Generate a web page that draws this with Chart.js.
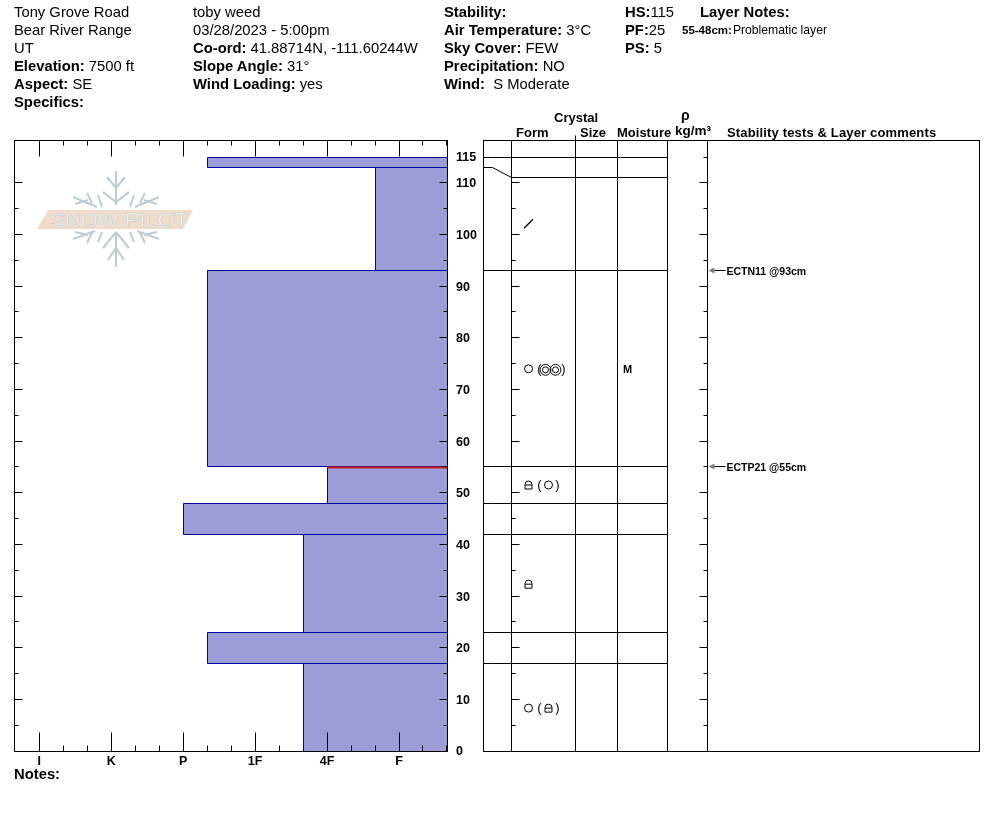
<!DOCTYPE html>
<html>
<head>
<meta charset="utf-8">
<title>Snow profile</title>
<script src="https://cdn.jsdelivr.net/npm/chart.js@4"></script>
<style>
  html, body { margin: 0; padding: 0; background: #fff; }
  #page { position: relative; width: 994px; height: 840px; overflow: hidden; font-family: "Liberation Sans", Arial, sans-serif; color: #000; }
  canvas { position: absolute; top: 0; z-index: 2; }
  #profile { left: 0; }
  #table { left: 475px; }
  .t { position: absolute; white-space: nowrap; font-size: 14.8px; line-height: 18px; z-index: 3; }
  .h { position: absolute; white-space: nowrap; font-size: 13px; line-height: 14px; font-weight: bold; z-index: 3; }
  b { font-weight: bold; }
  #logo { position: absolute; left: 0; top: 0; z-index: 1; }
</style>
</head>
<body>
<div id="page">
  <svg id="logo" width="240" height="290" fill="none" stroke="#bccbd4" stroke-width="2">
    <path d="M116 171V205M116 188L107 177M116 188L125 177M116 202L103 192M116 202L129 192"/>
    <path d="M116 267V234M116 232L103 248M116 232L129 248M116 248L108 260M116 248L124 260"/>
    <path d="M73 197L97 207M92 203L87 193M88 200L75 204M98 195L102 207"/>
    <path d="M159 197L135 207M140 203L145 193M144 200L157 204M134 195L130 207"/>
    <path d="M73 239L95 231M92 233L87 243M88 235L75 232M98 242L102 232"/>
    <path d="M159 239L137 231M140 233L145 243M144 235L157 232M134 242L130 232"/>
    <polygon points="37,229 48,210 193,210 183,229" fill="#f0dcc9" stroke="none"/>
    <text x="50" y="227" textLength="138" lengthAdjust="spacingAndGlyphs" font-family="Liberation Sans" font-size="21" fill="#f8f4ef" stroke="#c2ced6" stroke-width="0.6">SNOW PILOT</text>
  </svg>

  <div class="t" style="left:14px;top:3px">Tony Grove Road</div>
  <div class="t" style="left:14px;top:21px">Bear River Range</div>
  <div class="t" style="left:14px;top:39px">UT</div>
  <div class="t" style="left:14px;top:57px"><b>Elevation:</b> 7500 ft</div>
  <div class="t" style="left:14px;top:75px"><b>Aspect:</b> SE</div>
  <div class="t" style="left:14px;top:93px"><b>Specifics:</b></div>

  <div class="t" style="left:193px;top:3px">toby weed</div>
  <div class="t" style="left:193px;top:21px">03/28/2023 - 5:00pm</div>
  <div class="t" style="left:193px;top:39px"><b>Co-ord:</b> 41.88714N, -111.60244W</div>
  <div class="t" style="left:193px;top:57px"><b>Slope Angle:</b> 31°</div>
  <div class="t" style="left:193px;top:75px"><b>Wind Loading:</b> yes</div>

  <div class="t" style="left:444px;top:3px"><b>Stability:</b></div>
  <div class="t" style="left:444px;top:21px"><b>Air Temperature:</b> 3°C</div>
  <div class="t" style="left:444px;top:39px"><b>Sky Cover:</b> FEW</div>
  <div class="t" style="left:444px;top:57px"><b>Precipitation:</b> NO</div>
  <div class="t" style="left:444px;top:75px"><b>Wind:</b>&nbsp; S Moderate</div>

  <div class="t" style="left:625px;top:3px"><b>HS:</b>115</div>
  <div class="t" style="left:625px;top:21px"><b>PF:</b>25</div>
  <div class="t" style="left:625px;top:39px"><b>PS:</b> 5</div>
  <div class="t" style="left:700px;top:3px"><b>Layer Notes:</b></div>
  <div class="t" style="left:682px;top:21px;font-size:12.2px"><b style="font-size:11.5px;margin-right:1px">55-48cm:</b>Problematic layer</div>

  <div class="h" style="left:554px;top:111px">Crystal</div>
  <div class="h" style="left:516px;top:126px">Form</div>
  <div class="h" style="left:580px;top:126px">Size</div>
  <div class="h" style="left:617px;top:126px">Moisture</div>
  <div class="h" style="left:681px;top:108px;font-size:14px">ρ</div>
  <div class="h" style="left:675px;top:124px;font-size:13.5px">kg/m³</div>
  <div class="h" style="left:727px;top:126px;letter-spacing:0.15px">Stability tests &amp; Layer comments</div>
  <div class="t" style="left:14px;top:765px"><b>Notes:</b></div>

  <canvas id="profile" width="483" height="790"></canvas>
  <canvas id="table" width="519" height="790"></canvas>
</div>

<script>
// layers top to bottom, cm from the ground
const layerTops = [115, 113, 93, 55, 48, 42, 23, 17];
const layerBottoms = [113, 93, 55, 48, 42, 23, 17, 0];
// hand hardness in steps from I = 0, thirds are the + and - grades
const layerHardness = [2.333, 4.667, 2.333, 4, 2, 3.667, 2.333, 3.667];
const hardnessLabels = ['I', 'K', 'P', '1F', '4F', 'F'];
const depthLabels = [0, 10, 20, 30, 40, 50, 60, 70, 80, 90, 100, 110, 115];
const depthTicks = [5, 10, 15, 20, 25, 30, 35, 40, 45, 50, 55, 60, 65, 70, 75, 80, 85, 90, 95, 100, 105, 110];
const hardnessThirds = [1, 2, 4, 5, 7, 8, 10, 11, 13, 14, 16, 17];
const problemLayerCm = 54.8;
const problemLayerHardness = 4;

// right hand table
const tableLinesLeft = [115, 113, 93, 55, 48, 42, 23, 17];
const tableLinesRight = [115, 111, 93, 55, 48, 42, 23, 17];
const columnEdges = [28, 92, 134, 184, 224];
const grainCm = [102.1, 74, 51.5, 32.3, 8.3];
const grainPrimary = ['slash', 'round', 'facet', 'facet', 'round'];
const grainSecondary = ['', 'pair', 'round', '', 'facet'];
const moistureCm = [74];
const moistureLabels = ['M'];
const stabilityCm = [93, 55];
const stabilityLabels = ['ECTN11 @93cm', 'ECTP21 @55cm'];

const depthMax = 118.3;
const hardMin = -0.352;
const hardMax = 5.667;
const tableWidth = 496;
const FILL = '#9c9cd6';
const NAVY = '#00009c';

function crisp(v) {
  return Math.floor(v) + 0.5;
}

// keep thin lines on whole pixels
const snapPoints = {
  id: 'snapPoints',
  afterDatasetsUpdate(chart) {
    chart.data.datasets.forEach((ds, i) => {
      chart.getDatasetMeta(i).data.forEach((pt) => {
        pt.x = crisp(pt.x);
        pt.y = crisp(pt.y);
      });
    });
  },
};

function tickLine(ctx, x1, y1, x2, y2) {
  ctx.beginPath();
  ctx.moveTo(x1, y1);
  ctx.lineTo(x2, y2);
  ctx.stroke();
}

const profileFrame = {
  id: 'profileFrame',
  afterDatasetsDraw(chart) {
    const { ctx, chartArea: a, scales } = chart;
    const left = crisp(a.left);
    const right = crisp(a.right);
    const top = crisp(a.top);
    const bottom = crisp(a.bottom);
    ctx.save();
    ctx.strokeStyle = '#000';
    ctx.lineWidth = 1;
    ctx.strokeRect(left, top, right - left, bottom - top);
    depthTicks.forEach((cm) => {
      const y = crisp(scales.y.getPixelForValue(cm));
      const len = cm % 10 === 0 ? 8 : 4;
      tickLine(ctx, left, y, left + len, y);
      tickLine(ctx, right, y, right - len, y);
    });
    hardnessLabels.forEach((lab, i) => {
      const x = crisp(scales.x.getPixelForValue(i));
      tickLine(ctx, x, top, x, top + 16);
      tickLine(ctx, x, bottom, x, bottom - 19);
    });
    hardnessThirds.forEach((n) => {
      const x = crisp(scales.x.getPixelForValue(n / 3));
      tickLine(ctx, x, top, x, top + 5);
      tickLine(ctx, x, bottom, x, bottom - 6);
    });
    ctx.restore();
  },
};

function drawGrain(ctx, kind, x, y) {
  ctx.beginPath();
  if (kind === 'round') {
    ctx.arc(x, y, 4, 0, Math.PI * 2);
  } else if (kind === 'slash') {
    ctx.moveTo(x - 4.5, y + 4.5);
    ctx.lineTo(x + 4.5, y - 4.5);
  } else if (kind === 'facet') {
    ctx.arc(x, y - 0.5, 3.5, Math.PI, 0);
    ctx.lineTo(x + 3.5, y + 4);
    ctx.lineTo(x - 3.5, y + 4);
    ctx.closePath();
    ctx.moveTo(x - 3.5, y);
    ctx.lineTo(x + 3.5, y);
  } else if (kind === 'pair') {
    [-5, 5].forEach((dx) => {
      ctx.moveTo(x + dx + 5.4, y);
      ctx.arc(x + dx, y, 5.4, 0, Math.PI * 2);
      ctx.moveTo(x + dx + 3, y);
      ctx.arc(x + dx, y, 3, 0, Math.PI * 2);
    });
  }
  ctx.stroke();
}

const tableMarks = {
  id: 'tableMarks',
  afterDatasetsDraw(chart) {
    const { ctx, chartArea: a, scales } = chart;
    const left = crisp(a.left);
    const right = crisp(a.right);
    const top = crisp(a.top);
    const bottom = crisp(a.bottom);
    const formX = crisp(scales.x.getPixelForValue(columnEdges[0]));
    const sizeX = crisp(scales.x.getPixelForValue(columnEdges[1]));
    const testX = crisp(scales.x.getPixelForValue(columnEdges[4]));
    ctx.save();
    ctx.strokeStyle = '#000';
    ctx.fillStyle = '#000';
    ctx.lineWidth = 1;
    ctx.strokeRect(left, top, right - left, bottom - top);
    tickLine(ctx, sizeX, top, sizeX, top - 5);
    depthTicks.forEach((cm) => {
      const y = crisp(scales.y.getPixelForValue(cm));
      const len = cm % 10 === 0 ? 8 : 4;
      tickLine(ctx, formX, y, formX + len, y);
      tickLine(ctx, testX, y, testX - len, y);
    });
    tickLine(ctx, testX, crisp(scales.y.getPixelForValue(115)), testX - 4, crisp(scales.y.getPixelForValue(115)));

    // grain shapes, primary then secondary in brackets
    ctx.textAlign = 'center';
    ctx.textBaseline = 'middle';
    grainCm.forEach((cm, i) => {
      const y = scales.y.getPixelForValue(cm);
      ctx.lineWidth = grainPrimary[i] === 'slash' ? 1.3 : 1;
      drawGrain(ctx, grainPrimary[i], formX + 17, y);
      if (grainSecondary[i]) {
        const pair = grainSecondary[i] === 'pair';
        drawGrain(ctx, grainSecondary[i], formX + (pair ? 39 : 37), y + (pair ? 1 : 0));
        ctx.font = '13px "Liberation Sans"';
        ctx.fillText('(', formX + 28, y + 0.5);
        ctx.fillText(')', formX + (pair ? 52 : 46), y + 0.5);
      }
    });

    ctx.font = 'bold 11px "Liberation Sans"';
    moistureCm.forEach((cm, i) => {
      ctx.fillText(moistureLabels[i], crisp(scales.x.getPixelForValue(columnEdges[2])) + 10, scales.y.getPixelForValue(cm) + 1);
    });

    // stability test arrows
    ctx.textAlign = 'left';
    ctx.font = 'bold 10.5px "Liberation Sans"';
    stabilityCm.forEach((cm, i) => {
      const y = crisp(scales.y.getPixelForValue(cm));
      ctx.fillStyle = '#808080';
      ctx.beginPath();
      ctx.moveTo(testX + 1, y);
      ctx.lineTo(testX + 7, y - 3);
      ctx.lineTo(testX + 7, y + 3);
      ctx.closePath();
      ctx.fill();
      tickLine(ctx, testX + 7, y, testX + 18, y);
      ctx.fillStyle = '#000';
      ctx.fillText(stabilityLabels[i], testX + 19, y + 2);
    });
    ctx.restore();
  },
};

const layerSets = layerTops.map((top, i) => ({
  data: [
    { x: layerHardness[i], y: layerBottoms[i] },
    { x: layerHardness[i], y: top },
    { x: hardMax, y: top },
    { x: hardMax, y: layerBottoms[i] },
    { x: layerHardness[i], y: layerBottoms[i] },
  ],
  showLine: true,
  fill: 'shape',
  backgroundColor: FILL,
  borderColor: NAVY,
  borderWidth: 1,
  pointRadius: 0,
  order: 2,
}));

const problemSet = {
  data: [
    { x: problemLayerHardness, y: problemLayerCm },
    { x: hardMax, y: problemLayerCm },
  ],
  showLine: true,
  borderColor: '#c81e1e',
  borderWidth: 2,
  pointRadius: 0,
  order: 1,
};

new Chart(document.getElementById('profile'), {
  type: 'scatter',
  data: { datasets: [...layerSets, problemSet] },
  plugins: [snapPoints, profileFrame],
  options: {
    responsive: false,
    animation: false,
    devicePixelRatio: 1,
    layout: { padding: { left: 14, top: 140, right: 0, bottom: 0 } },
    plugins: { legend: { display: false }, tooltip: { enabled: false } },
    scales: {
      x: {
        type: 'linear',
        min: hardMin,
        max: hardMax,
        grid: { display: false, drawTicks: false },
        border: { display: false },
        afterBuildTicks(scale) {
          scale.ticks = hardnessLabels.map((lab, i) => ({ value: i }));
        },
        afterFit(scale) {
          scale.height = 39;
        },
        ticks: {
          callback: (value, i) => hardnessLabels[i],
          autoSkip: false,
          maxRotation: 0,
          padding: 3,
          color: '#000',
          font: { family: 'Liberation Sans', size: 12.5, weight: 'bold' },
        },
      },
      y: {
        type: 'linear',
        position: 'right',
        min: 0,
        max: depthMax,
        grid: { display: false, drawTicks: false },
        border: { display: false },
        afterBuildTicks(scale) {
          scale.ticks = depthLabels.map((v) => ({ value: v }));
        },
        afterFit(scale) {
          scale.width = 36;
        },
        ticks: {
          autoSkip: false,
          crossAlign: 'near',
          padding: 9,
          labelOffset: 1,
          color: '#000',
          font: { family: 'Liberation Sans', size: 12.5, weight: 'bold' },
        },
      },
    },
  },
});

const tableSets = tableLinesLeft.map((cm, i) => ({
  data: [
    { x: 0, y: cm },
    { x: 9, y: cm },
    { x: columnEdges[0], y: tableLinesRight[i] },
    { x: columnEdges[3], y: tableLinesRight[i] },
  ],
}));
columnEdges.forEach((edge) => {
  tableSets.push({ data: [{ x: edge, y: 0 }, { x: edge, y: depthMax }] });
});
tableSets.forEach((ds) => {
  ds.showLine = true;
  ds.borderColor = '#000';
  ds.borderWidth = 1;
  ds.pointRadius = 0;
});

new Chart(document.getElementById('table'), {
  type: 'scatter',
  data: { datasets: tableSets },
  plugins: [snapPoints, tableMarks],
  options: {
    responsive: false,
    animation: false,
    devicePixelRatio: 1,
    layout: { padding: { left: 8, top: 140, right: 15, bottom: 39 } },
    plugins: { legend: { display: false }, tooltip: { enabled: false } },
    scales: {
      x: { type: 'linear', min: 0, max: tableWidth, display: false },
      y: { type: 'linear', min: 0, max: depthMax, display: false },
    },
  },
});
</script>
</body>
</html>
